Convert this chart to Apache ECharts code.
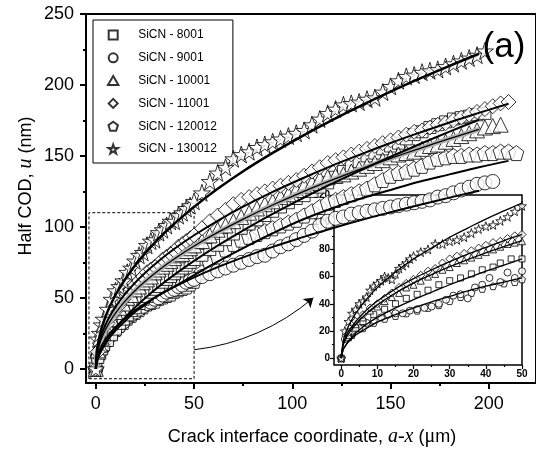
<!DOCTYPE html>
<html><head><meta charset="utf-8">
<script src="https://cdn.jsdelivr.net/npm/echarts@6/dist/echarts.min.js"></script>
<style>html,body{margin:0;padding:0;background:#fff}#c{width:536px;height:451px}</style>
</head><body><div id="c"></div>
<script>
// ---------- names & ticks ----------
const seriesNames = ['SiCN - 8001','SiCN - 9001','SiCN - 10001','SiCN - 11001','SiCN - 120012','SiCN - 130012'];
const xMajorTicks = [0,50,100,150,200];
const xMinorTicks = [25,75,125,175];
const yMajorTicks = [0,50,100,150,200,250];
const yMinorTicks = [25,75,125,175,225];
const insetXTicks = [0,10,20,30,40,50];
const insetXMinor = [5,15,25,35,45];
const insetYTicks = [0,20,40,60,80,100,120];
const insetYMinor = [10,30,50,70,90,110];

// ---------- main plot data (x in um, u in nm) ----------
const mainX = [0,1,2,3,4,6,8,10,12,14,16,18,20,22,24,26,28,30,32,34,36,38,40,42,44,46,48,50,
  54,58,62,66,70,74,78,82,86,90,94,98,102,106,110,114,118,122,126,130,134,138,142,146,150,154,158,162,166,170,174,178,182,186,190,194,198,202,206,210,214];
const u8001 = [0,8,11,14,17,20,24,28,32,35,38,41,43,46,49,51,54,56,58,61,63,65,67,69,71,73,75,77,
  80,84,87,91,95,99,102,105,108,111,114,117,120,122,125,128,131,135,139,143,146,150,152,155,157,159,162,165,167,170,172,174,176,177,178,179,180,null,null,null,null];
const u9001 = [0,8,12,15,18,22,25,28,30,33,36,38,40,42,44,46,47,49,50,52,54,55,56,58,59,61,62,63,
  65,67,69,71,73,75,77,79,80,83,86,88,91,94,97,101,104,106,107,109,110,111,112,113,114,115,116,117,118,119,121,122,124,126,128,130,131,132,null,null,null];
const u10001 = [0,13,17,22,25,31,35,40,43,46,50,52,56,58,61,63,65,68,70,72,74,76,78,80,81,83,85,87,
  90,94,98,101,104,107,110,113,116,118,121,123,126,129,131,134,135,136,137,139,141,143,145,147,149,151,152,153,155,157,158,160,162,164,166,168,170,171,172,null,null];
const u11001 = [0,12,18,23,27,32,37,41,45,49,53,56,59,62,65,68,70,72,74,77,79,81,83,86,88,90,92,94,
  99,104,108,112,116,119,121,123,125,127,129,131,133,136,139,142,145,147,149,151,153,155,157,159,161,163,165,167,168,170,172,173,175,177,179,181,183,185,187,188,null];
const u120012 = [0,9,12,15,17,21,25,28,31,33,36,38,40,42,44,46,47,48,50,51,52,53,55,56,57,58,60,62,
  68,74,79,84,88,91,93,95,97,99,101,103,105,108,111,114,117,119,121,123,125,127,130,133,136,138,139,141,143,146,148,149,150,150,151,151,152,152,153,153,152];
const u130012 = [0,21,25,31,35,42,49,55,58,62,68,71,76,80,82,87,90,91,96,98,101,104,104,108,110,113,115,118,
  124,132,138,142,148,151,153,156,158,160,162,164,166,168,172,176,180,183,186,187,188,190,191,195,199,203,206,207,209,210,211,213,215,217,219,221,224,null,null,null,null];

// ---------- main plot fit curves ----------
const fitX      = [0,0.5,1,2,3,5,7,10,14,19,25,32,40,50,62,75,90,105,120,135,150,165,180,195,210];
const fit8001   = [0,4.5,6.9,10.5,13.5,18.5,22.8,28.3,34.8,42.0,49.7,57.9,66.4,76.1,86.8,97.6,109.2,120.0,130.3,140.0,149.4,158.4,167.1,175.5,null];
const fit9001   = [0,6.7,9.5,13.3,16.2,20.8,24.6,29.3,34.5,40.1,45.9,51.7,57.7,64.4,71.6,78.5,85.9,92.6,98.9,104.8,110.3,115.6,120.6,125.5,null];
const fit10001  = [0,9.0,12.7,17.8,21.7,27.9,32.9,39.2,46.3,53.8,61.5,69.5,77.5,86.5,96.1,105.5,115.4,124.5,132.9,140.9,148.3,155.4,162.2,168.7,null];
const fit11001  = [0,10.4,14.5,20.2,24.5,31.3,36.8,43.6,51.2,59.2,67.5,76.0,84.6,94.1,104.3,114.2,124.6,134.1,143.0,151.2,159.1,166.5,173.6,180.3,186.8];
const fit120012 = [0,5,8,11,13.5,18,22,27,32.5,39,45,52,58,66,75.5,85,95.5,105,113,120,126,132,137,142,146.5];
const fit130012 = [0,12.0,16.9,23.7,28.8,37.0,43.6,52.0,61.2,71.1,81.3,91.7,102.3,114.1,126.8,139.2,152.1,164.0,175.1,185.5,195.3,204.6,213.5,222.0,null];

// ---------- inset data (first 50 um) ----------
const inStarX = [0,1,2,3,4,5,6,7,8,9,10,11,12,13,14,15,16,17,18,19,20,22,24,26,28,30,32,34,36,38,40,42,44,46,48,50];
const inStarY = [0,20,27,33,36,40,42,45,50,53,55,57,60,59,58,62,66,68,70,73,75,78,80,84,84,86,87,89,92,95,97,98,101,104,108,112];
const inDiaX = [0,2,4,6,8,10,12,14,16,18,20,22,24,26,28,30,32,34,36,38,40,42,44,46,48,50];
const inDiaY = [0,19,27,32,37,40,44,48,52,55,58,61,64,66,70,73,75,77,79,81,83,85,86,88,90,91];
const inTriX = [0,2,4,6,8,10,12,14,16,18,20,22,24,26,28,30,32,34,36,38,40,42,44,46,48,50];
const inTriY = [0,17,25,30,35,38,42,45,48,52,54,57,60,62,65,67,70,72,74,76,78,80,82,84,85,86];
const inSqX = [0,2,4,6,9,12,15,18,21,24,27,30,33,36,39,42,44,47,50];
const inSqY = [0,15,22,27,32,36,40,44,47,50,54,57,59,62,65,67,70,73,73];
const inCirX = [0,1,2,3,5,7,9,11,13,15,17,19,21,23,25,27,29,31,33,35,37,39,41,44,46,48,50];
const inCirY = [0,14,18,20,22,26,28,30,32,33,33,35,36,37,38,40,43,46,47,44,52,54,59,56,63,59,64];
const inPenX = [0,3,6,9,12,15,18,21,24,27,30,33,36,39,42,45,48,50];
const inPenY = [0,17,22,26,29,31,33,35,37,39,42,45,48,51,53,55,56,58];
const inFitX = [0,0.5,1,2,4,7,10,15,20,25,30,35,40,45,50];
const inFitStar = [0,12,17,23.6,33,43.4,51.9,63.4,72.9,81,88.9,95.7,102.3,108.3,114.1];
const inFitDia  = [0,10,14,19.5,27,35.5,42,51,58.5,65,71,76.5,81.5,86.5,91];
const inFitTri  = [0,9,12.7,17.8,25,32.9,39.2,47.9,55.2,61.5,67.3,72.5,77.5,82,86.5];
const inFitSq   = [0,6,8.5,12.5,18.5,25,30,37,43,48.5,54,59,64,68.5,73];
const inFitLow  = [0,6,8.5,12,17,22,26.5,32,37,41.5,45.5,49.5,53,56,59];

// ---------- annotations ----------
const zoomBox = {x0: -3.5, x1: 50, y0: -7, y1: 110};
const arrowFrom = [50, 13.4];
const arrowTo = [110.7, 50];

// ---------- helpers ----------
function pairs(xs, ys){ const o=[]; for(let i=0;i<xs.length;i++){ if(ys[i]!=null) o.push([xs[i],ys[i]]);} return o; }
const STAR = 'path://M50,0 L61.8,35.1 L97.6,35.1 L68.5,56.7 L79.4,90.5 L50,69.4 L20.6,90.5 L31.5,56.7 L2.4,35.1 L38.2,35.1 Z';
const PENT = 'path://M50,0 L97.6,34.5 L79.4,90.5 L20.6,90.5 L2.4,34.5 Z';
const RECT = 'path://M0,0 L100,0 L100,100 L0,100 Z';
const TRI = 'path://M50,0 L100,86.6 L0,86.6 Z';
const DIAM = 'path://M50,0 L100,50 L50,100 L0,50 Z';
const FONT = 'Liberation Sans';
const mk = {color:'#fff', borderColor:'#000', borderWidth:1};

const mainDefs = [
  {name: seriesNames[4], y: u120012, sym: PENT, size: 15},
  {name: seriesNames[1], y: u9001, sym: 'circle', size: 14},
  {name: seriesNames[0], y: u8001, sym: RECT, size: 12},
  {name: seriesNames[2], y: u10001, sym: TRI, size: 15},
  {name: seriesNames[3], y: u11001, sym: DIAM, size: 15},
  {name: seriesNames[5], y: u130012, sym: STAR, size: 17}
];
const series = [];
mainDefs.forEach(d => series.push({
  type:'scatter', name:d.name, xAxisIndex:0, yAxisIndex:0, symbol:d.sym, symbolSize:d.size,
  itemStyle: mk, data: pairs(mainX, d.y), z:4, silent:true
}));
function fitLine(xAxis, yAxis, xs, ys, w, color, z){
  return {type:'line', xAxisIndex:xAxis, yAxisIndex:yAxis, data:pairs(xs,ys), showSymbol:false, symbol:'none',
    smooth:0.4, lineStyle:{color:color, width:w}, z:z, silent:true};
}
series.push(fitLine(0,0,fitX,fit10001,5,'#b0b0b0',5));
series.push(fitLine(0,0,fitX,fit10001,1.3,'#000',6));
[fit8001, fit9001, fit11001, fit120012].forEach(f => series.push(fitLine(0,0,fitX,f,2,'#000',6)));
series.push(fitLine(0,0,fitX,fit130012,2.5,'#000',6));

// dashed zoom box + arrow
series.push({type:'scatter', name:'box', xAxisIndex:0, yAxisIndex:0, data:[], silent:true,
  markArea:{silent:true, itemStyle:{color:'rgba(0,0,0,0)', borderColor:'#000', borderWidth:1, borderType:[3,2]},
    data:[[{coord:[zoomBox.x0, zoomBox.y0]},{coord:[zoomBox.x1, zoomBox.y1]}]]}, z:3});
series.push({type:'lines', coordinateSystem:'cartesian2d', xAxisIndex:0, yAxisIndex:0, silent:true,
  symbol:['none','arrow'], symbolSize:9, lineStyle:{color:'#000', width:1, curveness:-0.15, opacity:1},
  data:[{coords:[arrowFrom, arrowTo]}], z:3});

// inset
const insetDefs = [
  {x:inPenX, y:inPenY, sym:PENT, size:7},
  {x:inCirX, y:inCirY, sym:'circle', size:7},
  {x:inSqX, y:inSqY, sym:RECT, size:6},
  {x:inTriX, y:inTriY, sym:TRI, size:7},
  {x:inDiaX, y:inDiaY, sym:DIAM, size:8},
  {x:inStarX, y:inStarY, sym:STAR, size:9}
];
insetDefs.forEach((d,i) => series.push({type:'scatter', name:'inset'+i, xAxisIndex:2, yAxisIndex:2,
  symbol:d.sym, symbolSize:d.size, itemStyle:mk, data:pairs(d.x,d.y), z:2, silent:true}));
[inFitStar, inFitDia, inFitTri, inFitSq, inFitLow].forEach(f => series.push(fitLine(2,2,inFitX,f,1.3,'#000',3)));

function axis(grid, pos, min, max, ticks, len, show, labelOpt, width){
  return {type:'value', gridIndex:grid, position:pos, min:min, max:max, splitLine:{show:false},
    axisLine:{show:false, onZero:false},
    axisTick:{show:true, inside:false, length:len, customValues:ticks, lineStyle:{color:'#000', width:width}},
    axisLabel: show ? Object.assign({show:true, customValues:ticks, color:'#000', fontFamily:FONT}, labelOpt) : {show:false}};
}

const option = {
  animation:false,
  backgroundColor:'#fff',
  grid:[
    {left:86, top:14, width:451, height:369, show:true, borderColor:'#000', borderWidth:2, backgroundColor:'rgba(0,0,0,0)'},
    {left:334, top:195, width:188, height:170, show:true, borderColor:'#000', borderWidth:1.5, backgroundColor:'#fff'}
  ],
  xAxis:[
    axis(0,'bottom',-5,224,xMajorTicks,6,true,{fontSize:18, margin:12},2),
    axis(0,'bottom',-5,224,xMinorTicks,3,false,null,2),
    axis(1,'bottom',-2,50,insetXTicks,4,true,{fontSize:10, fontWeight:'bold', margin:4},1.2),
    axis(1,'bottom',-2,50,insetXMinor,2,false,null,1.2)
  ],
  yAxis:[
    axis(0,'left',-10,250,yMajorTicks,6,true,{fontSize:18, margin:12},2),
    axis(0,'left',-10,250,yMinorTicks,3,false,null,2),
    axis(1,'left',-5,120,insetYTicks,4,true,{fontSize:10, fontWeight:'bold', margin:4},1.2),
    axis(1,'left',-5,120,insetYMinor,2,false,null,1.2)
  ],
  legend:{orient:'vertical', left:93, top:20, data:seriesNames, itemWidth:40, itemHeight:9, itemGap:10.8,
    padding:[9,16,8,14], borderColor:'#000', borderWidth:1, backgroundColor:'#fff', selectedMode:false,
    symbolKeepAspect:true, textStyle:{fontSize:12, fontFamily:FONT, color:'#000'}},
  graphic:[
    {type:'text', x:504, y:47, style:{text:'(a)', fontFamily:FONT, fontSize:35, fill:'#000', align:'center', verticalAlign:'middle'}, z:10},
    {type:'text', x:26, y:186, rotation:Math.PI/2, style:{text:'{n|Half COD, }{i|u}{n| (nm)}', align:'center', verticalAlign:'middle',
      rich:{n:{fontFamily:FONT, fontSize:18, fill:'#000'}, i:{fontFamily:'Liberation Serif', fontStyle:'italic', fontSize:20, fill:'#000'}}}},
    {type:'text', x:312, y:437, style:{text:'{n|Crack interface coordinate, }{i|a-x}{n| (}{g|μ}{n|m)}', align:'center', verticalAlign:'middle',
      rich:{n:{fontFamily:FONT, fontSize:18, fill:'#000'}, i:{fontFamily:'Liberation Serif', fontStyle:'italic', fontSize:20, fill:'#000'}, g:{fontFamily:'Liberation Serif', fontSize:20, fill:'#000'}}}}
  ],
  series: series
};
const chart = echarts.init(document.getElementById('c'), null, {renderer:'canvas'});
chart.setOption(option);
</script></body></html>
